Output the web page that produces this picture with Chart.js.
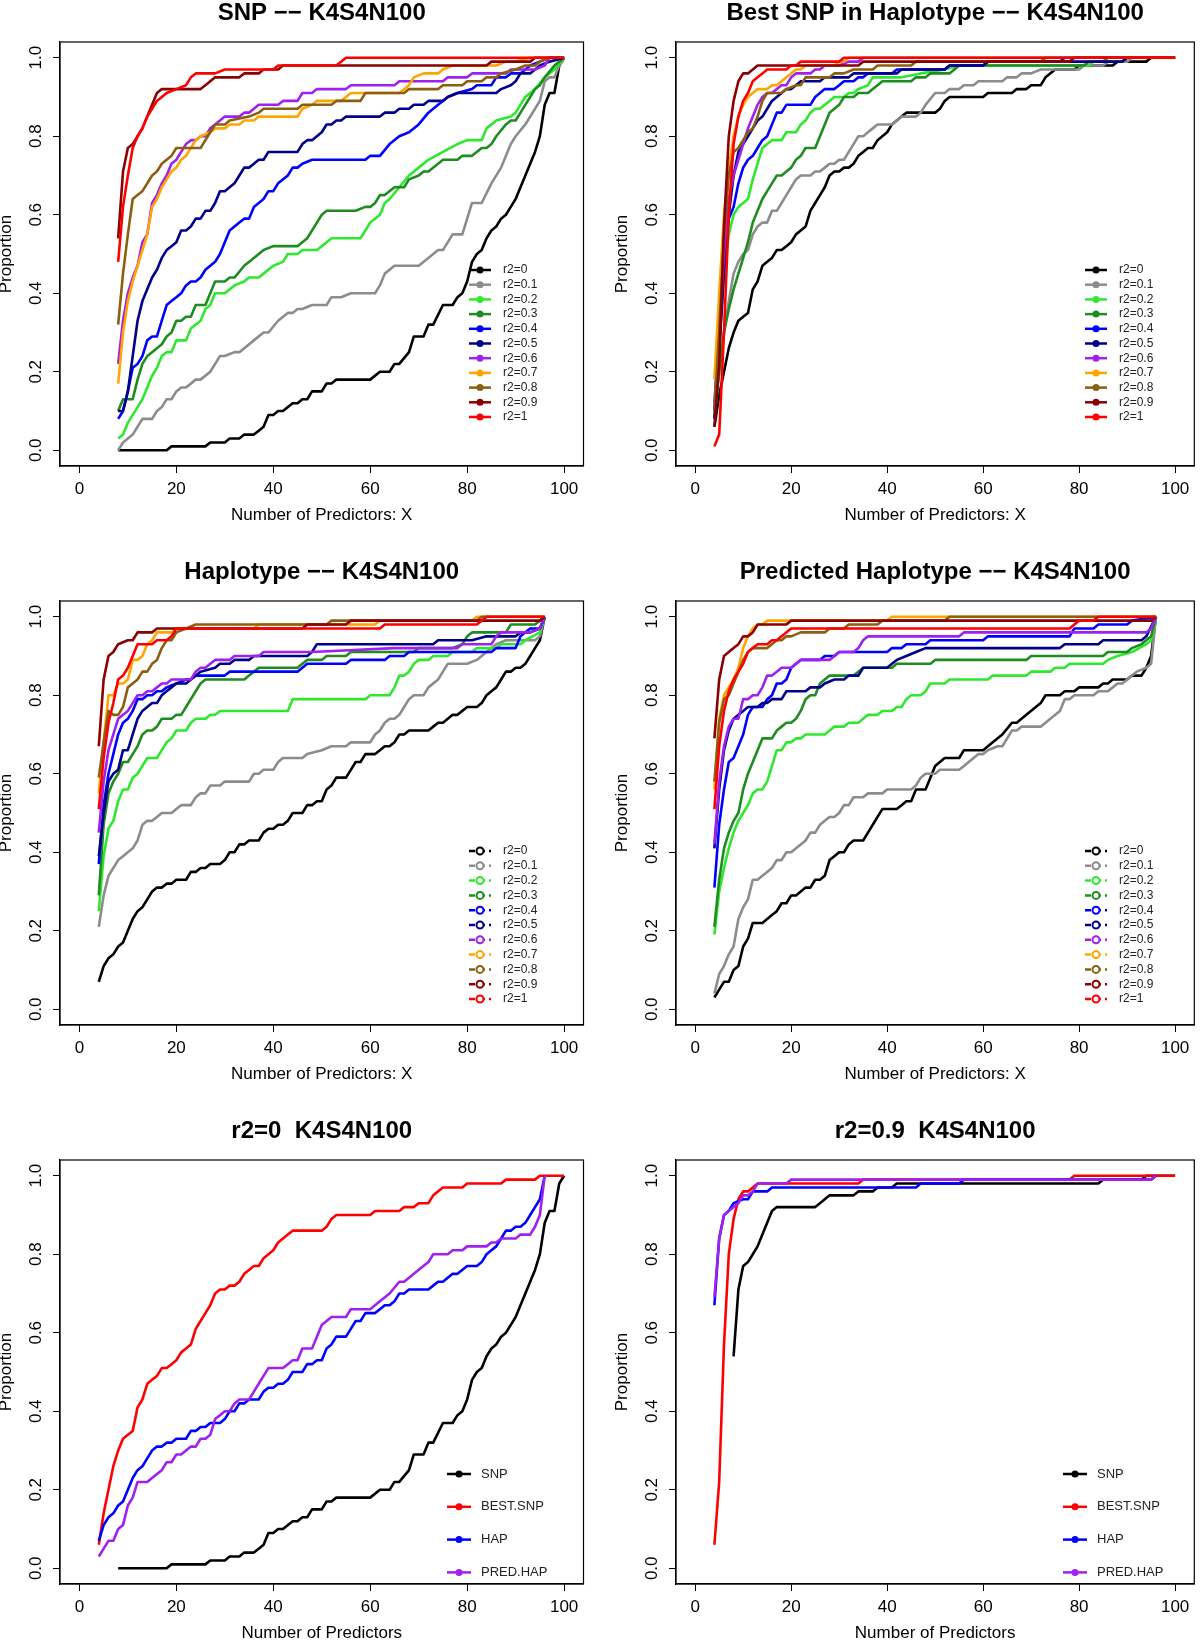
<!DOCTYPE html>
<html>
<head>
<meta charset="utf-8">
<title>K4S4N100</title>
<script src="https://cdn.jsdelivr.net/npm/chart.js@4.4.1/dist/chart.umd.min.js"></script>
<style>
  html, body { margin: 0; padding: 0; background: #fff; }
  body { width: 1200px; height: 1643px; position: relative; overflow: hidden; }
  canvas { position: absolute; }
</style>
</head>
<body>
<canvas id="p1"></canvas>
<canvas id="p2"></canvas>
<canvas id="p3"></canvas>
<canvas id="p4"></canvas>
<canvas id="p5"></canvas>
<canvas id="p6"></canvas>
<script>
// ---- axes / labels ----
const xTicks = [0, 20, 40, 60, 80, 100];
const yTicks = [0, 0.2, 0.4, 0.6, 0.8, 1.0];
const r2Labels = ['r2=0', 'r2=0.1', 'r2=0.2', 'r2=0.3', 'r2=0.4', 'r2=0.5', 'r2=0.6', 'r2=0.7', 'r2=0.8', 'r2=0.9', 'r2=1'];
const r2Colors = ['#000000', '#8c8c8c', '#2ee82e', '#1e8c1e', '#0000ff', '#00008b', '#a020f0', '#ffa500', '#8b5f10', '#8b0000', '#ff0000'];
const methodLabels = ['SNP', 'BEST.SNP', 'HAP', 'PRED.HAP'];
const methodColors = ['#000000', '#ff0000', '#0000ff', '#a020f0'];

// ---- SNP panel: [number of predictors, proportion] ----
const snpR0 = [[8,0],[18,0],[19,0.01],[26,0.01],[27,0.02],[30,0.02],[31,0.03],[33,0.03],[34,0.04],[36,0.04],[37,0.05],[38,0.06],[39,0.09],[40,0.09],[41,0.1],[42,0.1],[44,0.12],[45,0.12],[46,0.13],[47,0.13],[48,0.15],[50,0.15],[51,0.17],[52,0.17],[53,0.18],[60,0.18],[62,0.2],[64,0.2],[65,0.22],[66,0.22],[68,0.25],[69,0.29],[71,0.29],[72,0.32],[73,0.32],[75,0.37],[77,0.37],[78,0.39],[79,0.4],[80,0.43],[81,0.48],[82,0.5],[83,0.51],[84,0.54],[85,0.56],[86,0.57],[87,0.59],[88,0.6],[89,0.62],[90,0.64],[91,0.67],[92,0.7],[93,0.73],[94,0.76],[95,0.8],[96,0.88],[97,0.91],[98,0.91],[99,0.98],[100,1]];
const snpR01 = [[8,0],[9,0.02],[10,0.03],[11,0.04],[12,0.06],[13,0.08],[15,0.08],[16,0.1],[17,0.11],[18,0.13],[19,0.13],[20,0.15],[21,0.16],[22,0.16],[24,0.18],[25,0.18],[27,0.2],[29,0.24],[30,0.24],[32,0.25],[33,0.25],[36,0.28],[38,0.3],[39,0.3],[41,0.33],[43,0.35],[44,0.35],[45,0.36],[46,0.36],[48,0.37],[51,0.37],[52,0.39],[54,0.39],[56,0.4],[61,0.4],[62,0.42],[63,0.45],[65,0.47],[70,0.47],[72,0.49],[74,0.51],[75,0.51],[77,0.55],[79,0.55],[80,0.59],[81,0.63],[83,0.63],[85,0.68],[87,0.72],[88,0.75],[89,0.78],[90,0.8],[92,0.83],[94,0.87],[95,0.89],[96,0.94],[97,0.95],[98,0.95],[99,0.98],[100,1]];
const snpR02 = [[8,0.03],[9,0.04],[10,0.07],[12,0.11],[13,0.13],[14,0.16],[15,0.19],[16,0.21],[17,0.24],[18,0.25],[19,0.25],[20,0.28],[22,0.28],[23,0.31],[25,0.33],[26,0.36],[27,0.37],[28,0.4],[30,0.4],[32,0.42],[34,0.43],[35,0.44],[37,0.44],[38,0.45],[40,0.47],[42,0.48],[43,0.5],[45,0.5],[46,0.51],[49,0.51],[50,0.52],[52,0.54],[58,0.54],[59,0.56],[60,0.58],[62,0.6],[63,0.63],[64,0.64],[66,0.67],[68,0.7],[70,0.72],[72,0.74],[75,0.76],[78,0.78],[80,0.79],[83,0.79],[84,0.82],[86,0.84],[89,0.85],[90,0.86],[92,0.9],[94,0.92],[96,0.95],[98,0.97],[100,1]];
const snpR03 = [[8,0.1],[9,0.13],[11,0.13],[12,0.18],[13,0.22],[14,0.24],[15,0.25],[16,0.26],[17,0.27],[18,0.29],[19,0.3],[20,0.33],[21,0.33],[22,0.34],[23,0.34],[24,0.37],[26,0.37],[27,0.4],[28,0.43],[30,0.43],[31,0.44],[32,0.44],[34,0.47],[36,0.49],[37,0.5],[38,0.51],[40,0.52],[45,0.52],[47,0.54],[49,0.58],[50,0.6],[51,0.61],[57,0.61],[59,0.62],[60,0.62],[61,0.63],[62,0.65],[63,0.65],[65,0.67],[67,0.67],[68,0.69],[70,0.7],[71,0.71],[72,0.71],[74,0.73],[75,0.74],[78,0.74],[79,0.75],[81,0.75],[83,0.77],[84,0.77],[85,0.78],[86,0.8],[88,0.83],[89,0.84],[90,0.84],[91,0.86],[93,0.9],[94,0.92],[95,0.93],[96,0.95],[98,0.98],[100,1]];
const snpR04 = [[8,0.08],[9,0.1],[10,0.15],[11,0.21],[12,0.22],[13,0.24],[14,0.28],[15,0.29],[16,0.29],[17,0.33],[18,0.37],[19,0.38],[20,0.39],[21,0.4],[22,0.42],[23,0.43],[24,0.43],[25,0.44],[26,0.46],[27,0.47],[28,0.48],[29,0.5],[30,0.53],[31,0.56],[33,0.58],[34,0.59],[35,0.59],[36,0.62],[38,0.64],[39,0.66],[40,0.66],[41,0.68],[43,0.7],[44,0.72],[45,0.72],[46,0.73],[48,0.74],[59,0.74],[60,0.75],[62,0.75],[64,0.78],[66,0.8],[68,0.81],[70,0.83],[72,0.86],[74,0.88],[76,0.9],[78,0.91],[81,0.92],[82,0.93],[85,0.93],[86,0.95],[88,0.95],[89,0.96],[91,0.96],[92,0.97],[93,0.98],[95,0.99],[97,1],[100,1]];
const snpR05 = [[8,0.1],[9,0.1],[10,0.15],[11,0.24],[12,0.33],[13,0.38],[14,0.41],[15,0.44],[16,0.46],[17,0.49],[18,0.51],[19,0.52],[20,0.53],[21,0.56],[22,0.56],[23,0.57],[24,0.59],[25,0.59],[26,0.61],[27,0.61],[28,0.63],[29,0.66],[30,0.66],[31,0.67],[32,0.68],[33,0.7],[34,0.72],[35,0.72],[36,0.73],[37,0.74],[38,0.74],[39,0.76],[45,0.76],[46,0.78],[47,0.79],[48,0.79],[50,0.81],[51,0.83],[52,0.83],[53,0.84],[54,0.84],[55,0.85],[62,0.85],[63,0.86],[65,0.86],[66,0.87],[68,0.87],[69,0.88],[71,0.88],[72,0.89],[75,0.89],[76,0.9],[78,0.91],[86,0.91],[87,0.92],[89,0.93],[90,0.94],[91,0.96],[93,0.96],[94,0.97],[95,0.98],[97,0.99],[100,1]];
const snpR06 = [[8,0.22],[9,0.33],[10,0.4],[11,0.44],[12,0.47],[13,0.53],[14,0.55],[15,0.63],[16,0.65],[17,0.68],[18,0.7],[19,0.73],[20,0.74],[21,0.76],[22,0.78],[23,0.79],[24,0.79],[25,0.8],[26,0.8],[27,0.82],[28,0.83],[29,0.84],[30,0.85],[33,0.85],[34,0.86],[35,0.86],[37,0.88],[41,0.88],[42,0.89],[45,0.89],[46,0.91],[48,0.91],[49,0.92],[55,0.92],[56,0.93],[65,0.93],[66,0.94],[75,0.94],[76,0.95],[80,0.95],[81,0.96],[88,0.96],[89,0.97],[94,0.97],[96,0.98],[97,1],[100,1]];
const snpR07 = [[8,0.17],[9,0.3],[10,0.38],[11,0.43],[12,0.47],[13,0.51],[14,0.55],[15,0.62],[16,0.64],[17,0.67],[18,0.69],[19,0.71],[20,0.72],[21,0.74],[22,0.75],[23,0.77],[24,0.79],[25,0.8],[27,0.81],[28,0.82],[30,0.82],[31,0.83],[33,0.83],[34,0.84],[36,0.84],[37,0.85],[45,0.85],[46,0.87],[48,0.88],[49,0.89],[54,0.89],[56,0.91],[66,0.91],[68,0.93],[69,0.95],[71,0.96],[74,0.96],[75,0.97],[77,0.98],[86,0.98],[88,0.99],[90,0.99],[93,1],[100,1]];
const snpR08 = [[8,0.32],[9,0.45],[10,0.55],[11,0.64],[12,0.65],[13,0.66],[14,0.68],[15,0.7],[16,0.71],[17,0.73],[18,0.74],[19,0.75],[20,0.77],[25,0.77],[26,0.79],[27,0.81],[28,0.83],[30,0.83],[31,0.84],[35,0.85],[37,0.86],[38,0.87],[45,0.87],[46,0.88],[52,0.88],[53,0.89],[58,0.89],[59,0.91],[67,0.91],[68,0.92],[74,0.92],[75,0.93],[79,0.93],[80,0.94],[83,0.94],[84,0.95],[86,0.95],[87,0.96],[90,0.97],[92,0.98],[94,0.98],[95,0.99],[97,1],[100,1]];
const snpR09 = [[8,0.54],[9,0.71],[10,0.77],[11,0.78],[12,0.8],[13,0.82],[14,0.85],[15,0.88],[16,0.91],[17,0.92],[25,0.92],[26,0.93],[28,0.95],[33,0.95],[34,0.96],[37,0.96],[38,0.97],[41,0.97],[42,0.98],[84,0.98],[85,0.99],[93,0.99],[94,1],[100,1]];
const snpR1 = [[8,0.48],[9,0.62],[10,0.7],[11,0.77],[12,0.8],[13,0.82],[14,0.85],[15,0.87],[16,0.89],[17,0.9],[18,0.91],[20,0.92],[22,0.93],[23,0.95],[24,0.96],[28,0.96],[30,0.97],[40,0.97],[41,0.98],[53,0.98],[55,1],[100,1]];

// ---- Best SNP in haplotype panel ----
const bestR0 = [[4,0.06],[5,0.14],[6,0.2],[7,0.26],[8,0.3],[9,0.33],[10,0.34],[11,0.35],[12,0.41],[13,0.43],[14,0.47],[15,0.48],[16,0.49],[17,0.51],[18,0.51],[19,0.52],[20,0.53],[21,0.55],[22,0.56],[23,0.57],[24,0.61],[25,0.63],[26,0.65],[27,0.67],[28,0.7],[29,0.71],[30,0.71],[31,0.72],[32,0.72],[33,0.73],[34,0.75],[35,0.76],[36,0.77],[37,0.77],[38,0.79],[39,0.8],[40,0.81],[41,0.83],[42,0.84],[43,0.85],[44,0.86],[50,0.86],[51,0.87],[52,0.89],[53,0.9],[60,0.9],[61,0.91],[66,0.91],[67,0.92],[69,0.92],[70,0.93],[72,0.93],[73,0.95],[75,0.97],[79,0.97],[80,0.98],[87,0.98],[88,0.99],[94,0.99],[95,1],[100,1]];
const bestR01 = [[4,0.1],[5,0.2],[6,0.3],[7,0.38],[8,0.45],[9,0.48],[10,0.5],[11,0.51],[12,0.55],[13,0.57],[14,0.58],[15,0.58],[16,0.61],[17,0.61],[18,0.63],[19,0.65],[20,0.67],[21,0.69],[22,0.7],[24,0.7],[25,0.71],[26,0.71],[27,0.72],[28,0.73],[29,0.73],[30,0.74],[31,0.74],[32,0.76],[33,0.78],[34,0.8],[35,0.8],[36,0.81],[37,0.82],[38,0.83],[41,0.83],[42,0.84],[43,0.85],[46,0.85],[47,0.86],[48,0.88],[50,0.91],[52,0.91],[53,0.92],[55,0.92],[56,0.93],[58,0.93],[59,0.94],[64,0.94],[65,0.95],[67,0.95],[68,0.96],[70,0.96],[72,0.97],[80,0.97],[81,0.98],[85,0.98],[86,0.99],[90,0.99],[91,1],[100,1]];
const bestR02 = [[4,0.12],[5,0.28],[6,0.45],[7,0.55],[8,0.6],[9,0.62],[10,0.63],[11,0.64],[12,0.69],[13,0.73],[14,0.77],[15,0.78],[16,0.79],[18,0.79],[19,0.81],[21,0.81],[22,0.83],[23,0.84],[24,0.86],[25,0.87],[26,0.87],[27,0.88],[28,0.89],[29,0.9],[31,0.9],[32,0.91],[33,0.91],[34,0.92],[36,0.93],[37,0.95],[43,0.95],[47,0.96],[52,0.97],[55,0.98],[82,0.98],[83,0.99],[89,0.99],[90,1],[100,1]];
const bestR03 = [[4,0.08],[5,0.2],[6,0.3],[7,0.36],[8,0.41],[9,0.45],[10,0.49],[11,0.53],[12,0.58],[13,0.61],[14,0.64],[15,0.66],[16,0.68],[17,0.7],[18,0.7],[19,0.71],[20,0.72],[21,0.74],[22,0.75],[23,0.77],[25,0.77],[26,0.8],[27,0.83],[28,0.86],[29,0.87],[30,0.88],[31,0.9],[33,0.9],[34,0.91],[36,0.91],[37,0.92],[38,0.93],[39,0.94],[45,0.94],[46,0.95],[48,0.95],[49,0.96],[53,0.96],[54,0.97],[55,0.98],[81,0.98],[82,0.99],[85,0.99],[86,1],[100,1]];
const bestR04 = [[4,0.1],[5,0.3],[6,0.5],[7,0.59],[8,0.62],[9,0.68],[10,0.72],[11,0.74],[12,0.75],[13,0.77],[14,0.79],[15,0.8],[16,0.83],[17,0.86],[18,0.86],[19,0.88],[24,0.88],[25,0.9],[26,0.91],[27,0.92],[29,0.92],[30,0.93],[31,0.94],[33,0.94],[34,0.95],[35,0.95],[36,0.96],[41,0.96],[42,0.97],[52,0.97],[53,0.98],[60,0.98],[61,0.99],[76,0.99],[77,1],[100,1]];
const bestR05 = [[4,0.08],[5,0.25],[6,0.45],[7,0.6],[8,0.7],[9,0.76],[10,0.78],[11,0.8],[12,0.82],[13,0.84],[14,0.85],[15,0.87],[16,0.89],[17,0.9],[18,0.91],[19,0.92],[20,0.92],[21,0.93],[22,0.94],[26,0.94],[27,0.95],[32,0.95],[33,0.96],[42,0.96],[43,0.97],[52,0.97],[53,0.98],[60,0.98],[61,0.99],[89,0.99],[90,1],[100,1]];
const bestR06 = [[4,0.12],[5,0.3],[6,0.5],[7,0.64],[8,0.7],[9,0.74],[10,0.78],[11,0.82],[12,0.85],[13,0.88],[14,0.9],[15,0.91],[16,0.91],[17,0.92],[18,0.93],[19,0.93],[20,0.95],[21,0.96],[24,0.96],[25,0.97],[26,0.97],[27,0.98],[30,0.98],[32,0.99],[34,0.99],[35,1],[100,1]];
const bestR07 = [[4,0.18],[5,0.4],[6,0.6],[7,0.72],[8,0.8],[9,0.85],[10,0.88],[11,0.9],[12,0.91],[13,0.92],[15,0.92],[16,0.93],[17,0.93],[18,0.94],[19,0.95],[20,0.96],[21,0.97],[22,0.97],[23,0.98],[29,0.98],[30,0.99],[31,0.99],[32,1],[100,1]];
const bestR08 = [[4,0.1],[5,0.3],[6,0.55],[7,0.7],[8,0.76],[9,0.77],[10,0.79],[11,0.81],[12,0.82],[13,0.85],[14,0.89],[15,0.91],[18,0.91],[19,0.92],[21,0.93],[22,0.93],[23,0.95],[28,0.95],[29,0.96],[31,0.96],[33,0.97],[37,0.97],[38,0.98],[45,0.98],[46,0.99],[72,0.99],[73,1],[100,1]];
const bestR09 = [[4,0.06],[5,0.22],[6,0.57],[7,0.8],[8,0.89],[9,0.94],[10,0.96],[11,0.96],[12,0.97],[13,0.98],[34,0.98],[35,0.99],[78,0.99],[79,1],[100,1]];
const bestR1 = [[4,0.01],[5,0.04],[6,0.3],[7,0.6],[8,0.78],[9,0.85],[10,0.89],[11,0.91],[12,0.94],[13,0.95],[14,0.96],[15,0.97],[19,0.97],[20,0.98],[21,0.98],[22,0.99],[30,0.99],[31,1],[100,1]];

// ---- Haplotype panel ----
const hapR0 = [[4,0.07],[5,0.11],[6,0.13],[7,0.14],[8,0.16],[9,0.17],[10,0.2],[11,0.23],[12,0.25],[13,0.26],[14,0.28],[15,0.3],[16,0.31],[17,0.31],[18,0.32],[19,0.32],[20,0.33],[22,0.33],[23,0.35],[24,0.35],[25,0.36],[26,0.36],[27,0.37],[29,0.37],[30,0.38],[31,0.4],[32,0.4],[33,0.42],[34,0.42],[35,0.43],[37,0.43],[38,0.45],[39,0.46],[40,0.46],[41,0.47],[42,0.47],[43,0.48],[44,0.5],[46,0.5],[47,0.52],[48,0.52],[49,0.53],[50,0.53],[51,0.56],[52,0.57],[53,0.59],[55,0.59],[56,0.61],[57,0.63],[58,0.63],[59,0.65],[61,0.65],[62,0.66],[63,0.67],[64,0.67],[65,0.68],[66,0.7],[67,0.7],[68,0.71],[72,0.71],[73,0.72],[74,0.73],[75,0.73],[77,0.75],[78,0.75],[80,0.77],[82,0.77],[83,0.78],[84,0.8],[85,0.81],[86,0.82],[87,0.84],[88,0.86],[89,0.86],[90,0.87],[91,0.87],[92,0.88],[93,0.9],[94,0.92],[95,0.94],[96,1]];
const hapR01 = [[4,0.21],[5,0.29],[6,0.34],[7,0.36],[8,0.38],[9,0.39],[10,0.4],[11,0.41],[12,0.43],[13,0.47],[14,0.48],[15,0.48],[16,0.49],[17,0.5],[19,0.5],[20,0.51],[21,0.52],[23,0.52],[24,0.54],[25,0.55],[26,0.55],[27,0.57],[29,0.57],[30,0.58],[35,0.58],[36,0.6],[37,0.6],[38,0.61],[40,0.61],[41,0.63],[42,0.64],[46,0.64],[47,0.65],[50,0.66],[52,0.67],[55,0.67],[56,0.68],[60,0.68],[61,0.7],[62,0.71],[63,0.73],[64,0.74],[65,0.74],[66,0.75],[67,0.77],[68,0.79],[69,0.8],[71,0.8],[72,0.82],[74,0.84],[75,0.86],[76,0.88],[80,0.88],[82,0.89],[83,0.9],[85,0.92],[86,0.93],[88,0.94],[94,0.94],[95,0.95],[96,1]];
const hapR02 = [[4,0.25],[5,0.39],[6,0.46],[7,0.48],[8,0.53],[9,0.56],[10,0.56],[11,0.59],[12,0.6],[13,0.62],[14,0.64],[16,0.64],[17,0.66],[18,0.68],[19,0.69],[20,0.71],[22,0.71],[23,0.73],[24,0.74],[26,0.74],[27,0.75],[28,0.75],[29,0.76],[43,0.76],[44,0.79],[59,0.79],[60,0.8],[64,0.8],[65,0.82],[66,0.85],[67,0.85],[68,0.86],[69,0.88],[70,0.89],[72,0.89],[73,0.9],[76,0.9],[77,0.91],[81,0.91],[82,0.92],[86,0.92],[87,0.93],[91,0.93],[92,0.94],[95,0.96],[96,1]];
const hapR03 = [[4,0.29],[5,0.47],[6,0.55],[7,0.58],[8,0.6],[9,0.63],[10,0.63],[11,0.65],[12,0.67],[13,0.7],[14,0.71],[15,0.71],[16,0.72],[17,0.74],[19,0.74],[20,0.75],[21,0.75],[22,0.77],[23,0.79],[24,0.81],[25,0.83],[26,0.84],[34,0.84],[35,0.85],[36,0.86],[37,0.87],[45,0.87],[46,0.88],[47,0.89],[50,0.89],[51,0.9],[55,0.9],[56,0.91],[69,0.91],[70,0.92],[77,0.92],[79,0.93],[80,0.95],[81,0.96],[88,0.96],[89,0.98],[94,0.98],[95,0.99],[96,1]];
const hapR04 = [[4,0.37],[5,0.52],[6,0.6],[7,0.65],[8,0.7],[9,0.73],[10,0.74],[11,0.76],[12,0.79],[13,0.79],[14,0.8],[15,0.8],[16,0.81],[17,0.81],[18,0.82],[20,0.83],[22,0.84],[23,0.84],[24,0.85],[30,0.85],[31,0.86],[45,0.86],[46,0.87],[47,0.88],[55,0.88],[56,0.89],[63,0.89],[64,0.9],[67,0.9],[68,0.91],[85,0.91],[86,0.92],[90,0.92],[91,0.95],[93,0.97],[95,0.97],[96,1]];
const hapR05 = [[4,0.39],[5,0.5],[6,0.58],[7,0.6],[8,0.61],[9,0.66],[10,0.66],[11,0.7],[12,0.74],[13,0.76],[14,0.77],[15,0.78],[16,0.78],[17,0.8],[18,0.81],[19,0.82],[20,0.83],[22,0.83],[23,0.84],[25,0.86],[28,0.87],[29,0.88],[31,0.88],[32,0.89],[35,0.89],[36,0.9],[47,0.9],[48,0.91],[49,0.93],[73,0.93],[74,0.94],[81,0.94],[84,0.95],[90,0.95],[91,0.96],[93,0.96],[95,0.97],[96,1]];
const hapR06 = [[4,0.45],[5,0.58],[6,0.66],[7,0.7],[8,0.74],[9,0.75],[10,0.76],[11,0.78],[12,0.8],[13,0.8],[14,0.81],[15,0.81],[16,0.82],[17,0.83],[18,0.83],[19,0.84],[23,0.84],[24,0.86],[25,0.87],[26,0.87],[27,0.88],[28,0.89],[31,0.89],[32,0.9],[37,0.9],[38,0.91],[48,0.91],[65,0.92],[78,0.92],[79,0.93],[85,0.93],[86,0.95],[87,0.96],[93,0.96],[95,0.97],[96,1]];
const hapR07 = [[4,0.55],[5,0.68],[6,0.8],[7,0.8],[8,0.83],[9,0.83],[10,0.84],[11,0.89],[12,0.89],[13,0.9],[14,0.93],[15,0.94],[16,0.96],[19,0.96],[20,0.97],[36,0.97],[37,0.98],[61,0.98],[62,0.99],[81,0.99],[82,1],[96,1]];
const hapR08 = [[4,0.59],[5,0.68],[6,0.76],[7,0.75],[8,0.75],[9,0.77],[10,0.82],[11,0.83],[12,0.84],[13,0.86],[14,0.86],[15,0.88],[16,0.89],[17,0.92],[18,0.94],[19,0.94],[20,0.96],[22,0.97],[24,0.98],[51,0.98],[52,0.99],[82,0.99],[83,1],[96,1]];
const hapR09 = [[4,0.67],[5,0.84],[6,0.9],[7,0.91],[8,0.93],[10,0.94],[11,0.94],[12,0.96],[15,0.96],[16,0.97],[46,0.97],[47,0.98],[55,0.98],[56,0.99],[95,0.99],[96,1]];
const hapR1 = [[4,0.51],[5,0.64],[6,0.73],[7,0.78],[8,0.84],[9,0.85],[10,0.87],[11,0.9],[12,0.93],[15,0.93],[16,0.94],[18,0.94],[19,0.95],[20,0.97],[62,0.97],[63,0.98],[82,0.98],[83,0.99],[84,1],[96,1]];

// ---- Predicted haplotype panel ----
const predR0 = [[4,0.03],[5,0.05],[6,0.07],[7,0.07],[8,0.1],[9,0.11],[10,0.16],[11,0.18],[12,0.22],[14,0.22],[16,0.24],[17,0.25],[18,0.27],[19,0.27],[20,0.29],[21,0.29],[22,0.3],[23,0.31],[24,0.31],[25,0.33],[26,0.33],[27,0.34],[28,0.38],[29,0.39],[30,0.4],[31,0.4],[32,0.42],[33,0.43],[35,0.43],[36,0.45],[37,0.47],[38,0.49],[39,0.51],[42,0.51],[43,0.52],[44,0.53],[45,0.53],[46,0.56],[48,0.56],[49,0.59],[50,0.62],[52,0.64],[55,0.64],[56,0.66],[60,0.66],[62,0.68],[64,0.7],[66,0.73],[67,0.73],[69,0.75],[72,0.78],[73,0.8],[76,0.8],[77,0.81],[79,0.81],[80,0.82],[84,0.82],[85,0.83],[86,0.83],[87,0.84],[90,0.84],[91,0.85],[93,0.85],[94,0.87],[95,0.9],[96,1]];
const predR01 = [[4,0.04],[5,0.09],[6,0.11],[7,0.14],[8,0.16],[9,0.23],[10,0.26],[11,0.28],[12,0.33],[13,0.33],[14,0.34],[15,0.35],[16,0.36],[17,0.38],[18,0.38],[19,0.4],[20,0.4],[21,0.41],[22,0.42],[23,0.43],[24,0.45],[25,0.45],[26,0.47],[27,0.48],[28,0.49],[29,0.49],[30,0.5],[31,0.52],[32,0.52],[33,0.54],[35,0.54],[36,0.55],[39,0.55],[40,0.56],[45,0.56],[46,0.57],[47,0.59],[48,0.6],[50,0.6],[51,0.61],[55,0.61],[56,0.62],[57,0.63],[58,0.64],[59,0.65],[60,0.65],[61,0.66],[63,0.67],[64,0.67],[65,0.69],[66,0.71],[67,0.71],[68,0.72],[72,0.72],[73,0.73],[74,0.74],[76,0.76],[77,0.79],[78,0.79],[79,0.8],[83,0.8],[84,0.81],[86,0.81],[87,0.82],[88,0.83],[89,0.83],[90,0.84],[91,0.85],[92,0.86],[94,0.87],[95,0.88],[96,1]];
const predR02 = [[4,0.19],[5,0.3],[6,0.36],[7,0.41],[8,0.45],[9,0.48],[10,0.5],[11,0.52],[12,0.55],[13,0.56],[14,0.56],[15,0.58],[16,0.62],[17,0.66],[18,0.66],[19,0.68],[20,0.68],[21,0.69],[22,0.69],[23,0.7],[27,0.7],[28,0.71],[29,0.72],[31,0.72],[32,0.73],[34,0.73],[35,0.74],[36,0.75],[38,0.75],[39,0.76],[41,0.76],[42,0.77],[43,0.77],[44,0.79],[45,0.8],[47,0.8],[48,0.81],[49,0.83],[52,0.83],[53,0.84],[61,0.84],[62,0.85],[69,0.85],[70,0.86],[74,0.86],[75,0.87],[77,0.87],[78,0.88],[85,0.88],[86,0.89],[88,0.9],[91,0.91],[94,0.93],[95,0.94],[96,1]];
const predR03 = [[4,0.21],[5,0.33],[6,0.41],[7,0.45],[8,0.48],[9,0.5],[10,0.56],[11,0.6],[12,0.63],[13,0.66],[14,0.69],[16,0.69],[17,0.71],[18,0.72],[19,0.73],[20,0.73],[21,0.74],[22,0.76],[23,0.79],[24,0.8],[25,0.8],[26,0.83],[27,0.84],[28,0.85],[33,0.85],[34,0.86],[35,0.87],[41,0.87],[42,0.88],[49,0.88],[50,0.89],[69,0.89],[70,0.9],[85,0.9],[86,0.91],[90,0.91],[91,0.92],[93,0.93],[95,0.95],[96,1]];
const predR04 = [[4,0.31],[5,0.47],[6,0.56],[7,0.63],[8,0.64],[9,0.67],[10,0.7],[11,0.75],[12,0.77],[14,0.77],[15,0.79],[16,0.8],[17,0.83],[18,0.83],[19,0.84],[20,0.87],[21,0.88],[22,0.89],[26,0.89],[27,0.9],[29,0.9],[30,0.91],[40,0.91],[41,0.92],[43,0.92],[44,0.93],[48,0.93],[49,0.94],[60,0.94],[61,0.95],[78,0.95],[79,0.97],[83,0.97],[84,0.98],[90,0.98],[91,0.99],[96,1]];
const predR05 = [[4,0.41],[5,0.56],[6,0.66],[7,0.71],[8,0.74],[9,0.75],[10,0.76],[11,0.77],[13,0.77],[14,0.78],[15,0.78],[16,0.79],[18,0.79],[19,0.81],[23,0.81],[24,0.82],[26,0.82],[27,0.83],[29,0.84],[31,0.84],[32,0.85],[34,0.85],[35,0.87],[40,0.87],[41,0.88],[42,0.89],[44,0.9],[46,0.91],[48,0.92],[76,0.92],[77,0.93],[84,0.93],[85,0.94],[93,0.94],[94,0.95],[96,1]];
const predR06 = [[4,0.42],[5,0.58],[6,0.67],[7,0.72],[8,0.74],[9,0.74],[10,0.79],[11,0.79],[12,0.8],[13,0.8],[14,0.82],[15,0.85],[16,0.85],[17,0.86],[18,0.87],[20,0.87],[21,0.88],[22,0.89],[28,0.89],[29,0.9],[30,0.91],[33,0.91],[34,0.92],[35,0.94],[36,0.95],[55,0.95],[56,0.96],[94,0.96],[95,0.97],[96,1]];
const predR07 = [[4,0.56],[5,0.74],[6,0.8],[7,0.82],[8,0.84],[9,0.87],[10,0.92],[11,0.95],[12,0.97],[13,0.98],[14,0.98],[15,0.99],[40,0.99],[41,1],[96,1]];
const predR08 = [[4,0.58],[5,0.73],[6,0.79],[7,0.8],[8,0.83],[9,0.86],[10,0.89],[11,0.91],[12,0.92],[15,0.92],[16,0.93],[17,0.94],[18,0.94],[19,0.95],[20,0.95],[22,0.96],[27,0.96],[28,0.97],[31,0.97],[32,0.98],[38,0.98],[39,0.99],[52,0.99],[53,1],[96,1]];
const predR09 = [[4,0.69],[5,0.84],[6,0.9],[7,0.91],[8,0.92],[9,0.93],[10,0.95],[11,0.95],[12,0.96],[13,0.98],[19,0.98],[20,0.99],[95,0.99],[96,1]];
const predR1 = [[4,0.51],[5,0.67],[6,0.76],[7,0.81],[8,0.84],[9,0.86],[10,0.88],[11,0.91],[12,0.92],[13,0.93],[15,0.93],[16,0.94],[17,0.94],[18,0.95],[19,0.96],[20,0.97],[78,0.97],[79,0.98],[80,0.99],[83,0.99],[84,1],[96,1]];

// ---- layout (pixels) ----
const FONT = "'Liberation Sans', Arial, Helvetica, sans-serif";
const AXIS_W = 64, AXIS_H = 60, TITLE_H = 42, BOX_H = 424, ROW_STEP = 559;
const colGeom = [
  { left: -4, width: 604, padRight: 16.5 },
  { left: 612, width: 588, padRight: 5.7 }
];
const legendTop = { dx: 409, len: 22, textDx: 443, dy: 228, step: 14.7, size: 12, dashed: false };
const legendMid = { dx: 409, len: 22, textDx: 443, dy: 250, step: 14.8, size: 12, dashed: true };
const legendBot = { dx: 387, len: 24, textDx: 421, dy: 314, step: 32.8, size: 13, dashed: false };

// box around the plot region (R style)
const boxPlugin = {
  id: 'rBox',
  afterDraw(chart) {
    const { ctx, chartArea: a } = chart;
    ctx.save();
    ctx.strokeStyle = '#000';
    ctx.lineWidth = 1.2;
    ctx.strokeRect(a.left, a.top, a.right - a.left, a.bottom - a.top);
    ctx.restore();
  }
};

// legend drawn inside the plot region
const legendPlugin = {
  id: 'rLegend',
  afterDatasetsDraw(chart, args, opts) {
    const { ctx, chartArea: a } = chart;
    ctx.save();
    ctx.font = opts.size + 'px ' + FONT;
    ctx.textBaseline = 'middle';
    chart.data.datasets.forEach((ds, i) => {
      const y = a.top + opts.dy + i * opts.step;
      const x0 = a.left + opts.dx;
      const cx = x0 + opts.len / 2;
      ctx.strokeStyle = ds.borderColor;
      ctx.fillStyle = ds.borderColor;
      ctx.lineWidth = 2.5;
      ctx.setLineDash(opts.dashed ? [6, 4] : []);
      ctx.beginPath();
      ctx.moveTo(x0, y);
      ctx.lineTo(x0 + opts.len, y);
      ctx.stroke();
      ctx.setLineDash([]);
      ctx.beginPath();
      ctx.arc(cx, y, 3.5, 0, Math.PI * 2);
      if (opts.dashed) {
        ctx.fillStyle = '#fff';
        ctx.fill();
        ctx.lineWidth = 2;
        ctx.stroke();
      } else {
        ctx.fill();
      }
      ctx.fillStyle = '#222';
      ctx.fillText(ds.label, a.left + opts.textDx, y);
    });
    ctx.restore();
  }
};

function toPoints(arr) {
  return arr.map(p => ({ x: p[0], y: p[1] }));
}

function makePanel(id, row, col, title, xTitle, series, labels, colors, legend) {
  const g = colGeom[col];
  const canvas = document.getElementById(id);
  canvas.width = g.width;
  canvas.height = TITLE_H + BOX_H + AXIS_H;
  canvas.style.left = g.left + 'px';
  canvas.style.top = (row * ROW_STEP) + 'px';

  const n = series.length;
  return new Chart(canvas.getContext('2d'), {
    type: 'line',
    data: {
      datasets: series.map((s, i) => ({
        label: labels[i],
        data: toPoints(s),
        borderColor: colors[i],
        backgroundColor: colors[i],
        borderWidth: 2.6,
        pointRadius: 0,
        tension: 0,
        fill: false,
        borderJoinStyle: 'round',
        order: n - i  // later series drawn on top, like R
      }))
    },
    options: {
      responsive: false,
      animation: false,
      layout: { padding: { left: 0, top: 0, bottom: 0, right: g.padRight } },
      plugins: {
        legend: { display: false },
        tooltip: { enabled: false },
        title: {
          display: true,
          text: title,
          fullSize: false,
          color: '#000',
          font: { family: FONT, size: 24, weight: 'bold', lineHeight: 1.1 },
          padding: { top: 0, bottom: TITLE_H - 26.4 }
        },
        rLegend: legend
      },
      scales: {
        x: {
          type: 'linear',
          min: -4,
          max: 104,
          afterBuildTicks: s => { s.ticks = xTicks.map(v => ({ value: v })); },
          afterFit: s => { s.height = AXIS_H; },
          ticks: {
            color: '#000',
            font: { family: FONT, size: 17 },
            padding: 6,
            maxRotation: 0,
            callback: v => String(v)
          },
          grid: { drawOnChartArea: false, drawTicks: true, tickLength: 7, color: '#000', tickColor: '#000' },
          border: { display: true, color: '#000', width: 1.2 },
          title: {
            display: true,
            text: xTitle,
            color: '#000',
            font: { family: FONT, size: 17 },
            padding: 0
          }
        },
        y: {
          min: -0.04,
          max: 1.04,
          afterBuildTicks: s => { s.ticks = yTicks.map(v => ({ value: v })); },
          afterFit: s => { s.width = AXIS_W; },
          ticks: {
            color: '#000',
            font: { family: FONT, size: 17 },
            padding: 5,
            minRotation: 90,
            maxRotation: 90,
            crossAlign: 'center',
            callback: v => v.toFixed(1)
          },
          grid: { drawOnChartArea: false, drawTicks: true, tickLength: 7, color: '#000', tickColor: '#000' },
          border: { display: true, color: '#000', width: 1.2 },
          title: {
            display: true,
            text: 'Proportion',
            color: '#000',
            font: { family: FONT, size: 17 },
            padding: 0
          }
        }
      }
    },
    plugins: [boxPlugin, legendPlugin]
  });
}

const xTitleR2 = 'Number of Predictors: X';
const xTitleMethod = 'Number of Predictors';

makePanel('p1', 0, 0, 'SNP \u2212\u2212 K4S4N100', xTitleR2,
  [snpR0, snpR01, snpR02, snpR03, snpR04, snpR05, snpR06, snpR07, snpR08, snpR09, snpR1],
  r2Labels, r2Colors, legendTop);
makePanel('p2', 0, 1, 'Best SNP in Haplotype \u2212\u2212 K4S4N100', xTitleR2,
  [bestR0, bestR01, bestR02, bestR03, bestR04, bestR05, bestR06, bestR07, bestR08, bestR09, bestR1],
  r2Labels, r2Colors, legendTop);
makePanel('p3', 1, 0, 'Haplotype \u2212\u2212 K4S4N100', xTitleR2,
  [hapR0, hapR01, hapR02, hapR03, hapR04, hapR05, hapR06, hapR07, hapR08, hapR09, hapR1],
  r2Labels, r2Colors, legendMid);
makePanel('p4', 1, 1, 'Predicted Haplotype \u2212\u2212 K4S4N100', xTitleR2,
  [predR0, predR01, predR02, predR03, predR04, predR05, predR06, predR07, predR08, predR09, predR1],
  r2Labels, r2Colors, legendMid);
makePanel('p5', 2, 0, 'r2=0  K4S4N100', xTitleMethod,
  [snpR0, bestR0, hapR0, predR0], methodLabels, methodColors, legendBot);
makePanel('p6', 2, 1, 'r2=0.9  K4S4N100', xTitleMethod,
  [snpR09, bestR09, hapR09, predR09], methodLabels, methodColors, legendBot);
</script>
</body>
</html>
